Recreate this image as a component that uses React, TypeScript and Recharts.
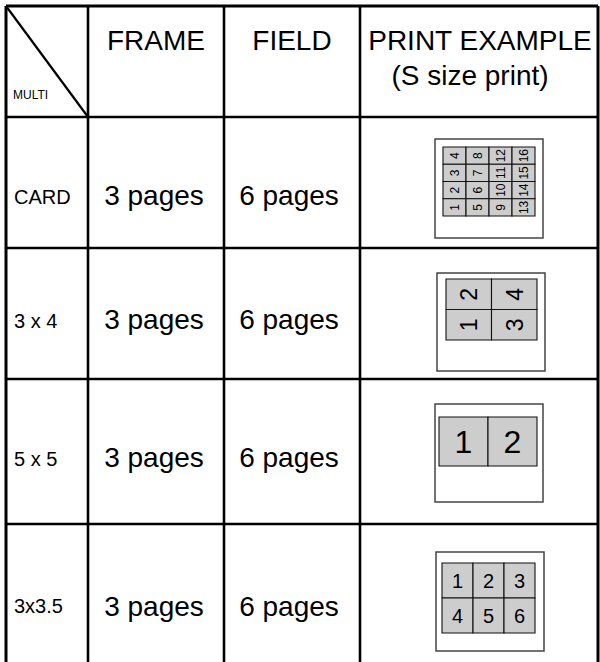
import {
  ComposedChart,
  XAxis,
  YAxis,
  ReferenceLine,
  ReferenceArea,
  Scatter,
} from 'recharts'

// header texts
const HEADERS = ['FRAME', 'FIELD', 'PRINT EXAMPLE']
const SUB_HEADER = '(S size print)'
const CORNER_LABEL = 'MULTI'

// one entry per table row
const MULTI_TYPES = ['CARD', '3 x 4', '5 x 5', '3x3.5']
const FRAME_PAGES = [3, 3, 3, 3]
const FIELD_PAGES = [6, 6, 6, 6]

// page numbers on the sample print, top row first
const PRINT_CARD = [
  [4, 8, 12, 16],
  [3, 7, 11, 15],
  [2, 6, 10, 14],
  [1, 5, 9, 13],
]
const PRINT_3X4 = [
  [2, 4],
  [1, 3],
]
const PRINT_5X5 = [[1, 2]]
const PRINT_3X35 = [
  [1, 2, 3],
  [4, 5, 6],
]
const PRINTS = [PRINT_CARD, PRINT_3X4, PRINT_5X5, PRINT_3X35]
const ROTATED = [true, true, false, false]

// layout (chart units = pixels)
const W = 600
const H = 662
const COL_X = [6, 88, 224, 360, 598]
const ROW_Y = [6, 117, 248, 379, 524]
const LABEL_BASE = [204, 328, 466, 613]
const PAGES_BASE = [205, 329, 467, 616]
const PRINT_BOX = [
  { x: 435, y: 139, w: 108, h: 99, ix: 443, iy: 147, iw: 92, ih: 69, font: 12 },
  { x: 437, y: 273, w: 108, h: 98, ix: 446, iy: 279, iw: 91, ih: 61, font: 23 },
  { x: 435, y: 404, w: 108, h: 98, ix: 439, iy: 417, iw: 98, ih: 49, font: 32 },
  { x: 436, y: 552, w: 108, h: 99, ix: 442, iy: 563, iw: 93, ih: 70, font: 20 },
]
const FONT = '"Liberation Sans", Arial, sans-serif'

type TextItem = {
  x: number
  y: number
  label: string
  size: number
  anchor: 'start' | 'middle' | 'end'
  rotate?: boolean
}

const colMid = (i: number) => (COL_X[i] + COL_X[i + 1]) / 2

const texts: TextItem[] = [
  { x: colMid(1), y: 50, label: HEADERS[0], size: 28, anchor: 'middle' },
  { x: colMid(2), y: 50, label: HEADERS[1], size: 28, anchor: 'middle' },
  { x: colMid(3) + 1, y: 50, label: HEADERS[2], size: 28, anchor: 'middle' },
  { x: colMid(3) - 9, y: 85, label: SUB_HEADER, size: 28, anchor: 'middle' },
  { x: 13, y: 99, label: CORNER_LABEL, size: 12, anchor: 'start' },
]

MULTI_TYPES.forEach((name, r) => {
  texts.push({ x: 14, y: LABEL_BASE[r], label: name, size: 20, anchor: 'start' })
  texts.push({ x: colMid(1) - 2, y: PAGES_BASE[r], label: `${FRAME_PAGES[r]} pages`, size: 28, anchor: 'middle' })
  texts.push({ x: colMid(2) - 3, y: PAGES_BASE[r], label: `${FIELD_PAGES[r]} pages`, size: 28, anchor: 'middle' })
})

type Cell = { x1: number; x2: number; y1: number; y2: number }
const cells: Cell[] = []

PRINTS.forEach((grid, r) => {
  const b = PRINT_BOX[r]
  const nRows = grid.length
  const nCols = grid[0].length
  const cw = b.iw / nCols
  const ch = b.ih / nRows
  grid.forEach((row, i) => {
    row.forEach((num, j) => {
      const x1 = b.ix + j * cw
      const y1 = b.iy + i * ch
      cells.push({ x1, x2: x1 + cw, y1, y2: y1 + ch })
      texts.push({
        x: x1 + cw / 2,
        y: y1 + ch / 2,
        label: String(num),
        size: b.font,
        anchor: 'middle',
        rotate: ROTATED[r],
      })
    })
  })
})

const isCellText = (t: TextItem) => /^\d+$/.test(t.label)

const TextMark = (props: any) => {
  const { cx, cy, payload } = props
  const t = payload as TextItem
  if (isCellText(t)) {
    const dy = t.size * 0.36
    return (
      <text
        x={cx}
        y={cy + dy}
        textAnchor="middle"
        fontSize={t.size}
        fontFamily={FONT}
        fill="#000"
        transform={t.rotate ? `rotate(-90 ${cx} ${cy})` : undefined}
      >
        {t.label}
      </text>
    )
  }
  return (
    <text x={cx} y={cy} textAnchor={t.anchor} fontSize={t.size} fontFamily={FONT} fill="#000">
      {t.label}
    </text>
  )
}

export default function App() {
  const lineW = 2.6
  return (
    <div style={{ position: 'absolute', left: 0, top: 0, background: '#fff' }}>
      <ComposedChart width={W} height={H} margin={{ top: 0, right: 0, bottom: 0, left: 0 }}>
        <XAxis type="number" dataKey="x" domain={[0, W]} allowDataOverflow hide />
        <YAxis type="number" dataKey="y" domain={[0, H]} allowDataOverflow reversed hide />

        {/* table frame */}
        <ReferenceLine segment={[{ x: COL_X[0], y: ROW_Y[0] }, { x: COL_X[4], y: ROW_Y[0] }]} stroke="#000" strokeWidth={3} />
        {COL_X.map((x, i) => (
          <ReferenceLine
            key={`v${i}`}
            segment={[{ x, y: ROW_Y[0] }, { x, y: H }]}
            stroke="#000"
            strokeWidth={i === 0 || i === 4 ? 3 : lineW}
          />
        ))}
        {ROW_Y.slice(1).map((y, i) => (
          <ReferenceLine
            key={`h${i}`}
            segment={[{ x: COL_X[0], y }, { x: COL_X[4], y }]}
            stroke="#000"
            strokeWidth={lineW}
          />
        ))}
        <ReferenceLine segment={[{ x: COL_X[0], y: ROW_Y[0] }, { x: COL_X[1], y: ROW_Y[1] }]} stroke="#000" strokeWidth={2.2} />

        {/* sample prints */}
        {PRINT_BOX.map((b, i) => (
          <ReferenceArea
            key={`pb${i}`}
            x1={b.x}
            x2={b.x + b.w}
            y1={b.y}
            y2={b.y + b.h}
            fill="#fff"
            fillOpacity={1}
            stroke="#444"
            strokeWidth={1.5}
          />
        ))}
        {cells.map((c, i) => (
          <ReferenceArea
            key={`c${i}`}
            x1={c.x1}
            x2={c.x2}
            y1={c.y1}
            y2={c.y2}
            fill="#cdcdcd"
            fillOpacity={1}
            stroke="#111"
            strokeWidth={1.1}
          />
        ))}

        <Scatter data={texts} shape={TextMark} isAnimationActive={false} />
      </ComposedChart>
    </div>
  )
}
